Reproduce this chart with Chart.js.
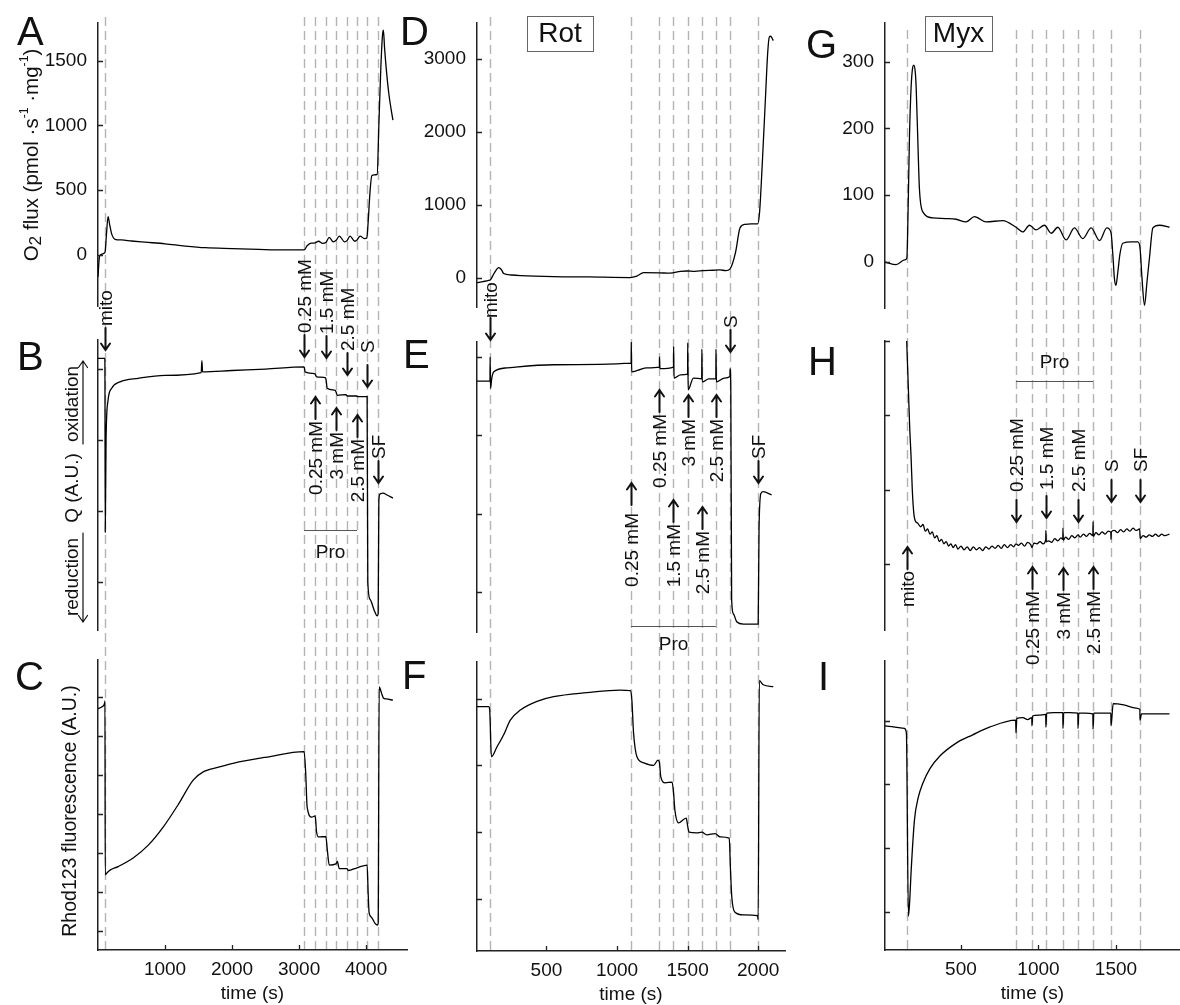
<!DOCTYPE html>
<html>
<head>
<meta charset="utf-8">
<script src="https://cdn.jsdelivr.net/npm/chart.js@4.4.0/dist/chart.umd.min.js"></script>
<style>
  html, body { margin: 0; padding: 0; background: #fff; }
  #fig { position: relative; width: 1180px; height: 1005px; overflow: hidden; }
  #fig canvas { position: absolute; left: 0; top: 0; }
</style>
</head>
<body>
<div id="fig"></div>
<script>
// ---- event times (s): mito, Pro additions, S, SF
const EVENTS_1 = [105, 3075, 3240, 3400, 3550, 3715, 3865, 4015, 4180];
const EVENTS_2 = [100, 1100, 1300, 1400, 1500, 1600, 1700, 1800, 2000];
const EVENTS_3 = [150, 855, 958, 1048, 1158, 1255, 1352, 1468, 1655];

// ---- tick values
const FLUX_TICKS_A = [0, 500, 1000, 1500];
const FLUX_TICKS_D = [0, 1000, 2000, 3000];
const FLUX_TICKS_G = [0, 100, 200, 300];
const AU_TICKS = [1, 2, 3, 4];
const AU_TICKS_C = [1, 2, 3, 4, 5, 6, 7];
const TIME_TICKS_1 = [1000, 2000, 3000, 4000];
const TIME_TICKS_2 = [500, 1000, 1500, 2000];
const TIME_TICKS_3 = [500, 1000, 1500];

// ---- A: O2 flux, control
const TIME_A = [0, 20, 40, 80, 105, 125, 150, 175, 205, 255, 350, 500, 700, 1000, 1300, 1600, 2000, 2400, 2800, 3075, 3120, 3180, 3240, 3290, 3350, 3400, 3450, 3510, 3550, 3600, 3680, 3715, 3760, 3830, 3865, 3910, 3975, 4010, 4030, 4060, 4085, 4120, 4165, 4190, 4220, 4245, 4258, 4275, 4300, 4340, 4400];
const FLUX_A = [-170, -20, 0, 10, 20, 150, 295, 230, 160, 120, 115, 107, 98, 85, 68, 55, 48, 42, 38, 38, 70, 90, 92, 105, 88, 95, 135, 100, 110, 145, 100, 110, 145, 105, 115, 145, 125, 130, 250, 500, 612, 618, 622, 1000, 1450, 1700, 1735, 1600, 1440, 1240, 1040];

// ---- B: Q redox, control
const TIME_B = [0, 100, 103, 108, 120, 150, 204, 328, 600, 1000, 1540, 1550, 1560, 2000, 2500, 3075, 3090, 3200, 3240, 3260, 3390, 3400, 3420, 3540, 3550, 3570, 3700, 3715, 3860, 3865, 4015, 4025, 4060, 4120, 4165, 4180, 4190, 4210, 4250, 4320, 4400];
const Q_B = [4.15, 4.15, 4.1, 1.7, 3.0, 3.56, 3.73, 3.82, 3.87, 3.91, 3.95, 4.12, 3.96, 3.98, 4.0, 4.03, 3.96, 3.94, 3.93, 3.89, 3.88, 3.86, 3.73, 3.7, 3.68, 3.63, 3.64, 3.62, 3.62, 3.61, 3.61, 1.0, 0.75, 0.6, 0.52, 0.55, 2.15, 2.24, 2.25, 2.22, 2.18];

// ---- C: Rhod123, control
const TIME_C = [0, 60, 100, 104, 108, 140, 180, 300, 525, 750, 975, 1200, 1420, 1570, 1800, 2015, 2520, 3075, 3100, 3120, 3190, 3240, 3260, 3290, 3400, 3420, 3450, 3550, 3570, 3600, 3715, 3730, 3865, 4015, 4030, 4045, 4080, 4130, 4170, 4180, 4195, 4230, 4260, 4300, 4400];
const RHOD_C = [6.7, 6.75, 6.85, 6.9, 2.44, 2.5, 2.56, 2.65, 2.87, 3.2, 3.67, 4.25, 4.87, 5.08, 5.2, 5.3, 5.46, 5.6, 5.0, 4.18, 3.92, 3.95, 3.55, 3.41, 3.42, 3.1, 2.69, 2.72, 2.78, 2.6, 2.6, 2.55, 2.62, 2.69, 2.0, 1.46, 1.35, 1.2, 1.15, 1.2, 7.26, 7.1, 6.97, 6.95, 6.92];

// ---- D: O2 flux, rotenone
const TIME_D = [8, 50, 90, 103, 130, 162, 180, 197, 250, 315, 551, 800, 1093, 1140, 1188, 1300, 1376, 1450, 1494, 1550, 1612, 1680, 1730, 1770, 1801, 1840, 1871, 1907, 1950, 1996, 2010, 2030, 2050, 2068, 2079, 2088, 2107];
const FLUX_D = [-70, -55, -40, -30, 60, 135, 110, 55, 35, 27, 13, 8, 0, 20, 67, 65, 60, 85, 90, 85, 95, 100, 105, 95, 120, 350, 680, 730, 735, 735, 900, 1600, 2400, 3100, 3300, 3310, 3250];

// ---- E: Q redox, rotenone
const TIME_E = [8, 90, 100, 101, 104, 112, 127, 221, 551, 1100, 1101, 1104, 1150, 1211, 1300, 1301, 1304, 1400, 1401, 1404, 1450, 1500, 1501, 1504, 1541, 1600, 1601, 1604, 1650, 1700, 1701, 1704, 1760, 1800, 1801, 1806, 1812, 1825, 1848, 1895, 2000, 2006, 2020, 2036, 2095];
const Q_E = [3.69, 3.69, 3.69, 4.0, 3.6, 3.72, 3.81, 3.86, 3.9, 3.92, 4.19, 3.81, 3.83, 3.86, 3.87, 4.0, 3.85, 3.87, 4.13, 3.73, 3.77, 3.78, 4.18, 3.58, 3.73, 3.72, 4.1, 3.68, 3.72, 3.72, 4.1, 3.68, 3.73, 3.75, 3.85, 3.6, 0.9, 0.72, 0.62, 0.59, 0.59, 1.8, 2.26, 2.28, 2.24];

// ---- F: Rhod123, rotenone
const TIME_F = [8, 91, 98, 110, 150, 197, 244, 315, 433, 551, 786, 1022, 1095, 1105, 1117, 1141, 1188, 1259, 1290, 1300, 1310, 1341, 1390, 1400, 1410, 1435, 1490, 1500, 1510, 1565, 1600, 1636, 1695, 1730, 1795, 1803, 1813, 1836, 1895, 1995, 2000, 2008, 2036, 2107];
const RHOD_F = [3.88, 3.88, 3.83, 3.13, 3.28, 3.46, 3.68, 3.83, 3.96, 4.03, 4.09, 4.13, 4.12, 3.98, 3.49, 3.13, 3.04, 3.0, 3.08, 3.05, 2.83, 2.74, 2.75, 2.6, 2.33, 2.14, 2.21, 2.1, 2.0, 1.99, 2.0, 1.96, 1.98, 1.93, 1.91, 1.48, 1.03, 0.8, 0.76, 0.75, 0.69, 4.27, 4.21, 4.18];

// ---- G: O2 flux, myxothiazol
const TIME_G = [10, 82, 136, 151, 160, 168, 178, 189, 196, 205, 211, 222, 232, 254, 318, 400, 469, 533, 587, 662, 770, 855, 899, 942, 985, 1039, 1082, 1125, 1178, 1232, 1286, 1340, 1394, 1441, 1468, 1480, 1490, 1500, 1512, 1525, 1544, 1600, 1641, 1655, 1668, 1684, 1700, 1716, 1738, 1781, 1845];
const FLUX_G = [0, -4, 3, 6, 90, 189, 260, 292, 295, 285, 262, 180, 110, 75, 66, 65, 64, 60, 68, 60, 62, 52, 45, 55, 48, 55, 43, 52, 33, 51, 35, 51, 32, 51, 44, 10, -25, -35, -15, 11, 28, 30, 30, 21, -25, -65, -30, 6, 51, 55, 52];

// ---- H: Q redox, myxothiazol
const TIME_H = [150, 160, 170, 178, 186, 195, 205, 220, 240, 255, 270, 285, 300, 315, 330, 345, 360, 375, 390, 405, 420, 435, 450, 465, 480, 500, 520, 540, 560, 580, 600, 620, 640, 660, 680, 700, 720, 740, 760, 780, 800, 820, 840, 855, 870, 890, 910, 930, 950, 958, 970, 990, 1010, 1030, 1047, 1048, 1050, 1065, 1085, 1105, 1125, 1145, 1157, 1158, 1160, 1175, 1195, 1215, 1235, 1255, 1270, 1290, 1310, 1330, 1351, 1352, 1354, 1370, 1390, 1410, 1430, 1450, 1467, 1468, 1470, 1490, 1510, 1530, 1550, 1570, 1590, 1610, 1630, 1653, 1656, 1675, 1695, 1715, 1735, 1755, 1775, 1795, 1815, 1845];
const Q_H = [4.0, 3.4, 2.8, 2.45, 2.0, 1.7, 1.58, 1.55, 1.50, 1.53, 1.44, 1.47, 1.40, 1.43, 1.35, 1.38, 1.30, 1.33, 1.27, 1.30, 1.24, 1.27, 1.22, 1.26, 1.20, 1.24, 1.19, 1.23, 1.18, 1.23, 1.19, 1.22, 1.18, 1.23, 1.20, 1.24, 1.21, 1.25, 1.21, 1.26, 1.22, 1.26, 1.23, 1.27, 1.25, 1.28, 1.24, 1.29, 1.26, 1.22, 1.28, 1.27, 1.30, 1.27, 1.33, 1.45, 1.30, 1.31, 1.29, 1.34, 1.31, 1.35, 1.33, 1.48, 1.32, 1.36, 1.33, 1.38, 1.35, 1.39, 1.36, 1.40, 1.37, 1.41, 1.38, 1.57, 1.37, 1.42, 1.39, 1.43, 1.40, 1.44, 1.42, 1.33, 1.43, 1.45, 1.42, 1.46, 1.43, 1.47, 1.44, 1.48, 1.45, 1.47, 1.34, 1.38, 1.36, 1.39, 1.37, 1.40, 1.37, 1.40, 1.38, 1.40];

// ---- I: Rhod123, myxothiazol
const TIME_I = [10, 135, 148, 161, 170, 178, 200, 225, 254, 300, 361, 469, 576, 684, 853, 855, 860, 900, 930, 957, 958, 963, 1000, 1047, 1048, 1053, 1100, 1157, 1158, 1163, 1200, 1254, 1255, 1260, 1300, 1351, 1352, 1357, 1400, 1467, 1468, 1482, 1550, 1630, 1654, 1655, 1665, 1750, 1845];
const RHOD_I = [3.92, 3.88, 3.81, 0.93, 1.2, 1.61, 2.44, 2.8, 3.02, 3.25, 3.44, 3.65, 3.78, 3.9, 4.01, 3.81, 4.04, 4.05, 4.02, 4.05, 3.92, 4.08, 4.09, 4.1, 3.9, 4.12, 4.13, 4.13, 3.88, 4.13, 4.13, 4.12, 3.88, 4.12, 4.12, 4.11, 3.87, 4.12, 4.12, 4.12, 3.92, 4.27, 4.25, 4.2, 4.18, 4.01, 4.11, 4.11, 4.11];

const FONT = '"Liberation Sans", Arial, Helvetica, sans-serif';
Chart.defaults.font.family = FONT;
Chart.defaults.color = '#111';
const INK = '#111';
const YW = 60, XH = 55;   // fixed axis box sizes

// --- small drawing helpers
function vText(ctx, str, x, y, align, size) {
  ctx.save();
  ctx.translate(x, y);
  ctx.rotate(-Math.PI / 2);
  ctx.font = size + 'px ' + FONT;
  ctx.fillStyle = INK;
  ctx.textAlign = align;
  ctx.textBaseline = 'middle';
  ctx.fillText(str, 0, 0);
  ctx.restore();
}

function arrow(ctx, x, y0, tip, w) {
  const d = tip > y0 ? -1 : 1;
  ctx.save();
  ctx.strokeStyle = INK;
  ctx.lineWidth = w;
  ctx.lineCap = 'round';
  ctx.beginPath();
  ctx.moveTo(x, y0); ctx.lineTo(x, tip);
  ctx.moveTo(x - 4.5, tip + d * 6.5); ctx.lineTo(x, tip); ctx.lineTo(x + 4.5, tip + d * 6.5);
  ctx.stroke();
  ctx.restore();
}

function arrowLabel(ctx, x, lab) {
  const len = 22, gap = lab.gap === undefined ? 2 : lab.gap;
  if (lab.dir === 'down') {
    arrow(ctx, x, lab.tip - len, lab.tip, 2);
    vText(ctx, lab.text, x + 1, lab.tip - len - gap, 'left', 19);
  } else {
    arrow(ctx, x, lab.tip + len, lab.tip, 2);
    vText(ctx, lab.text, x + 1, lab.tip + len + gap, 'right', 19);
  }
}

function vRich(ctx, parts, cx, cy, size) {
  ctx.save();
  ctx.translate(cx, cy);
  ctx.rotate(-Math.PI / 2);
  ctx.fillStyle = INK;
  ctx.textBaseline = 'middle';
  ctx.textAlign = 'left';
  const scale = { sub: 0.85, sup: 0.6 };
  const fontOf = p => (p.s ? size * scale[p.s] : size) + 'px ' + FONT;
  const widths = parts.map(p => { ctx.font = fontOf(p); return ctx.measureText(p.t).width; });
  let x = -widths.reduce((a, b) => a + b, 0) / 2;
  parts.forEach((p, i) => {
    ctx.font = fontOf(p);
    const dy = p.s === 'sup' ? -size * 0.38 : p.s === 'sub' ? size * 0.22 : 0;
    ctx.fillText(p.t, x, dy);
    x += widths[i];
  });
  ctx.restore();
}

function decor(p) {
  return {
    id: 'decor' + p.letter[0],
    beforeDatasetsDraw(chart) {
      if (!p.dash) return;
      const ctx = chart.ctx, xs = chart.scales.x;
      ctx.save();
      ctx.strokeStyle = '#b3b3b3';
      ctx.lineWidth = 1.4;
      ctx.setLineDash([9, 5]);
      ctx.beginPath();
      p.events.forEach(t => {
        const px = Math.round(xs.getPixelForValue(t)) + 0.5;
        ctx.moveTo(px, p.dash[0]); ctx.lineTo(px, p.dash[1]);
      });
      ctx.stroke();
      ctx.restore();
    },
    afterDraw(chart) {
      const ctx = chart.ctx, xs = chart.scales.x, ys = chart.scales.y, a = chart.chartArea;
      // inward tick marks
      ctx.save();
      ctx.strokeStyle = '#222';
      ctx.lineWidth = 1.3;
      ctx.beginPath();
      ys.ticks.forEach(tk => {
        const py = Math.round(ys.getPixelForValue(tk.value)) + 0.5;
        ctx.moveTo(a.left, py); ctx.lineTo(a.left + 5, py);
      });
      if (p.xTicks) {
        xs.ticks.forEach(tk => {
          const px = Math.round(xs.getPixelForValue(tk.value)) + 0.5;
          ctx.moveTo(px, a.bottom); ctx.lineTo(px, a.bottom - 5);
        });
      }
      ctx.stroke();
      ctx.restore();
      // panel letter
      ctx.save();
      ctx.fillStyle = INK;
      ctx.font = '40px ' + FONT;
      ctx.textBaseline = 'alphabetic';
      ctx.fillText(p.letter[0], p.letter[1], p.letter[2]);
      ctx.restore();
      // boxed condition name
      if (p.box) {
        const b = p.box;
        ctx.save();
        ctx.strokeStyle = '#666';
        ctx.lineWidth = 1;
        ctx.strokeRect(b.x + 0.5, b.y + 0.5, b.w, b.h);
        ctx.fillStyle = INK;
        ctx.font = '28px ' + FONT;
        ctx.textAlign = 'center';
        ctx.textBaseline = 'middle';
        ctx.fillText(b.text, b.x + b.w / 2, b.y + b.h / 2 + 1);
        ctx.restore();
      }
      // event labels
      (p.labels || []).forEach(lab => arrowLabel(ctx, Math.round(xs.getPixelForValue(lab.t)) + 0.5, lab));
      // Pro bracket
      if (p.pro) {
        const x0 = xs.getPixelForValue(p.pro.from), x1 = xs.getPixelForValue(p.pro.to);
        ctx.save();
        ctx.strokeStyle = '#555';
        ctx.lineWidth = 1.2;
        ctx.beginPath();
        ctx.moveTo(x0, p.pro.y + 0.5); ctx.lineTo(x1, p.pro.y + 0.5);
        ctx.stroke();
        ctx.fillStyle = INK;
        ctx.font = '19px ' + FONT;
        ctx.textAlign = 'center';
        ctx.textBaseline = 'middle';
        ctx.fillText('Pro', (x0 + x1) / 2, p.pro.textY);
        ctx.restore();
      }
      if (p.title) p.title(ctx);
    }
  };
}

// ---- panel layout
const COL1 = { l: 98, r: 407, x: [0, 4610] };
const COL2 = { l: 477, r: 785, x: [8, 2190] };
const COL3 = { l: 885, r: 1180, x: [10, 1913] };

const PANELS = [
  { letter: ['A', 17, 45], col: COL1, t: 17, b: 306, y: [-395, 1795], yTicks: FLUX_TICKS_A, yLabels: true,
    time: TIME_A, vals: FLUX_A, events: EVENTS_1, dash: [17, 950],
    title: ctx => vRich(ctx, [{ t: 'O' }, { t: '2', s: 'sub' }, { t: ' flux (pmol ·s' }, { t: '-1', s: 'sup' },
      { t: ' ·mg' }, { t: '-1', s: 'sup' }, { t: ')' }], 32, 155, 20.5) },
  { letter: ['B', 17, 370], col: COL1, t: 340, b: 630, y: [0.32, 4.41], yTicks: AU_TICKS,
    time: TIME_B, vals: Q_B,
    labels: [
      { t: 105, text: 'mito', dir: 'down', tip: 350 },
      { t: 3075, text: '0.25 mM', dir: 'down', tip: 357 },
      { t: 3400, text: '1.5 mM', dir: 'down', tip: 358 },
      { t: 3715, text: '2.5 mM', dir: 'down', tip: 375 },
      { t: 4015, text: 'S', dir: 'down', tip: 387, gap: 12 },
      { t: 4180, text: 'SF', dir: 'down', tip: 483 },
      { t: 3240, text: '0.25 mM', dir: 'up', tip: 397 },
      { t: 3550, text: '3 mM', dir: 'up', tip: 408 },
      { t: 3865, text: '2.5 mM', dir: 'up', tip: 415 }
    ],
    pro: { from: 3075, to: 3865, y: 530, textY: 553 },
    title: ctx => {
      vText(ctx, 'oxidation', 73, 404, 'center', 19);
      vText(ctx, 'Q (A.U.)', 73, 488, 'center', 19);
      vText(ctx, 'reduction', 73, 577, 'center', 19);
      arrow(ctx, 83, 444, 361, 1.2);
      arrow(ctx, 83, 533, 622, 1.2);
    } },
  { letter: ['C', 15, 690], col: COL1, t: 660, b: 950, y: [0.51, 7.95], yTicks: AU_TICKS_C, xTicks: TIME_TICKS_1,
    time: TIME_C, vals: RHOD_C,
    title: ctx => vText(ctx, 'Rhod123 fluorescence (A.U.)', 71, 811, 'center', 19.5) },

  { letter: ['D', 400, 45], col: COL2, t: 17, b: 307, y: [-404, 3500], yTicks: FLUX_TICKS_D, yLabels: true,
    time: TIME_D, vals: FLUX_D, events: EVENTS_2, dash: [17, 951],
    box: { x: 527, y: 16, w: 66, h: 35, text: 'Rot' } },
  { letter: ['E', 403, 368], col: COL2, t: 342, b: 632, y: [0.49, 4.19], yTicks: AU_TICKS,
    time: TIME_E, vals: Q_E,
    labels: [
      { t: 100, text: 'mito', dir: 'down', tip: 340, gap: 0 },
      { t: 1800, text: 'S', dir: 'down', tip: 352 },
      { t: 2000, text: 'SF', dir: 'down', tip: 483 },
      { t: 1100, text: '0.25 mM', dir: 'up', tip: 483, gap: 8 },
      { t: 1300, text: '0.25 mM', dir: 'up', tip: 390 },
      { t: 1400, text: '1.5 mM', dir: 'up', tip: 500 },
      { t: 1500, text: '3 mM', dir: 'up', tip: 395 },
      { t: 1600, text: '2.5 mM', dir: 'up', tip: 507 },
      { t: 1700, text: '2.5 mM', dir: 'up', tip: 395 }
    ],
    pro: { from: 1100, to: 1700, y: 626, textY: 645 } },
  { letter: ['F', 402, 689], col: COL2, t: 662, b: 951, y: [0.22, 4.55], yTicks: AU_TICKS, xTicks: TIME_TICKS_2,
    time: TIME_F, vals: RHOD_F },

  { letter: ['G', 806, 58], col: COL3, t: 18, b: 308, y: [-69, 359], yTicks: FLUX_TICKS_G, yLabels: true,
    time: TIME_G, vals: FLUX_G, events: EVENTS_3, dash: [30, 950],
    box: { x: 925, y: 16, w: 67, h: 35, text: 'Myx' } },
  { letter: ['H', 808, 375], col: COL3, t: 341, b: 630, y: [0.11, 4.0], yTicks: AU_TICKS,
    time: TIME_H, vals: Q_H,
    labels: [
      { t: 855, text: '0.25 mM', dir: 'down', tip: 522, gap: 8 },
      { t: 1048, text: '1.5 mM', dir: 'down', tip: 518, gap: 6 },
      { t: 1255, text: '2.5 mM', dir: 'down', tip: 522, gap: 8 },
      { t: 1468, text: 'S', dir: 'down', tip: 502, gap: 8 },
      { t: 1655, text: 'SF', dir: 'down', tip: 502, gap: 8 },
      { t: 958, text: '0.25 mM', dir: 'up', tip: 567 },
      { t: 1158, text: '3 mM', dir: 'up', tip: 568 },
      { t: 1352, text: '2.5 mM', dir: 'up', tip: 567 },
      { t: 150, text: 'mito', dir: 'up', tip: 547 }
    ],
    pro: { from: 855, to: 1352, y: 381, textY: 363 } },
  { letter: ['I', 818, 690], col: COL3, t: 661, b: 950, y: [0.40, 4.94], yTicks: AU_TICKS, xTicks: TIME_TICKS_3,
    time: TIME_I, vals: RHOD_I }
];

const fig = document.getElementById('fig');
const tickFont = { family: FONT, size: 19 };
const axisBorder = { display: true, color: '#222', width: 1.5 };

PANELS.forEach(p => {
  const cv = document.createElement('canvas');
  cv.width = 1180; cv.height = 1005;
  fig.appendChild(cv);
  const c = p.col;
  const data = p.time.map((t, i) => ({ x: t, y: p.vals[i] }));
  const xScale = p.xTicks ? {
    type: 'linear', min: c.x[0], max: c.x[1],
    afterFit: s => { s.height = XH; },
    afterBuildTicks: s => { s.ticks = p.xTicks.map(v => ({ value: v })); },
    ticks: { font: tickFont, color: INK, padding: 8, maxRotation: 0, autoSkip: false, callback: v => String(v) },
    grid: { display: false, drawTicks: false },
    border: axisBorder,
    title: { display: true, text: 'time (s)', font: tickFont, color: INK, padding: 0 }
  } : { type: 'linear', min: c.x[0], max: c.x[1], display: false };

  new Chart(cv, {
    type: 'line',
    data: { datasets: [{ data, borderColor: '#000', borderWidth: 1.3, pointRadius: 0,
      cubicInterpolationMode: 'monotone', fill: false }] },
    options: {
      responsive: false,
      animation: false,
      events: [],
      layout: { padding: { left: c.l - YW, right: 1180 - c.r, top: p.t, bottom: p.xTicks ? 1005 - p.b - XH : 1005 - p.b } },
      plugins: { legend: { display: false }, tooltip: { enabled: false } },
      scales: {
        x: xScale,
        y: {
          type: 'linear', min: p.y[0], max: p.y[1],
          afterFit: s => { s.width = YW; },
          afterBuildTicks: s => { s.ticks = p.yTicks.map(v => ({ value: v })); },
          ticks: { display: !!p.yLabels, font: tickFont, color: INK, padding: 11, callback: v => String(v) },
          grid: { display: false, drawTicks: false },
          border: axisBorder
        }
      }
    },
    plugins: [decor(p)]
  });
});
</script>
</body>
</html>
